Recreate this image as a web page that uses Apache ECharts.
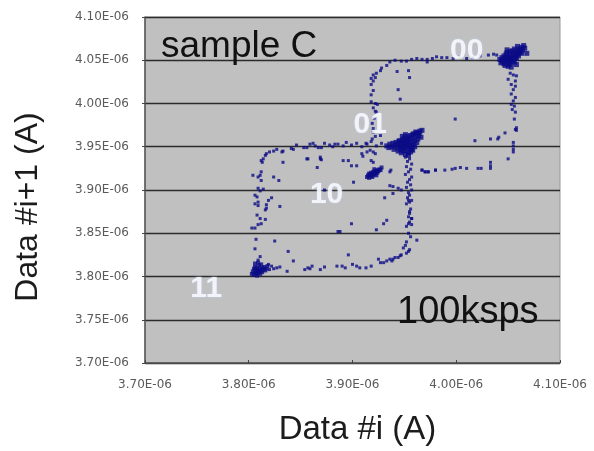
<!DOCTYPE html>
<html>
<head>
<meta charset="utf-8">
<script src="https://cdn.jsdelivr.net/npm/echarts@6/dist/echarts.min.js"></script>
<style>
  html, body { margin: 0; padding: 0; background: #ffffff; }
  #chart { width: 594px; height: 451px; }
</style>
</head>
<body>
<div id="chart"></div>
<script>
// Return map of a current-based memory cell, sampled at 100 ksps.
// Every value is in microamperes; tick labels print them as E-06 amperes.

// Axis ticks (µA)
const xTicks = [3.70, 3.80, 3.90, 4.00, 4.10];
const yTicks = [3.70, 3.75, 3.80, 3.85, 3.90, 3.95, 4.00, 4.05, 4.10];

// Steady-state cluster "00" (~4.05 µA)
const state00 = [
  [4.042,4.051],[4.043,4.047],[4.044,4.049],[4.044,4.053],[4.045,4.050],[4.046,4.046],[4.046,4.055],
  [4.047,4.052],[4.047,4.044],[4.048,4.049],[4.048,4.057],[4.049,4.054],[4.049,4.059],[4.050,4.051],
  [4.050,4.048],[4.050,4.043],[4.051,4.053],[4.051,4.045],[4.052,4.050],[4.052,4.056],[4.052,4.060],
  [4.053,4.052],[4.053,4.047],[4.053,4.042],[4.054,4.054],[4.054,4.049],[4.054,4.061],[4.055,4.057],
  [4.055,4.051],[4.056,4.053],[4.056,4.063],[4.057,4.059],[4.057,4.054],[4.058,4.056],[4.058,4.052],
  [4.058,4.045],[4.059,4.061],[4.059,4.057],[4.060,4.058],[4.060,4.055],[4.061,4.063],[4.061,4.059],
  [4.062,4.060],[4.063,4.065],[4.063,4.058],[4.064,4.062],[4.065,4.067],[4.066,4.064],[4.068,4.058],
  [4.056,4.048],[4.049,4.062],[4.059,4.066]
];

// Steady-state cluster "01" (~3.95 µA)
const state01 = [
  [3.933,3.951],[3.935,3.949],[3.936,3.953],[3.938,3.950],[3.939,3.954],[3.940,3.947],[3.941,3.952],
  [3.942,3.955],[3.943,3.949],[3.944,3.945],[3.944,3.953],[3.945,3.957],[3.946,3.950],[3.946,3.947],
  [3.947,3.954],[3.947,3.943],[3.948,3.958],[3.948,3.951],[3.949,3.948],[3.949,3.945],[3.950,3.955],
  [3.950,3.960],[3.950,3.952],[3.951,3.949],[3.951,3.941],[3.952,3.957],[3.952,3.953],[3.952,3.946],
  [3.953,3.962],[3.953,3.950],[3.954,3.955],[3.954,3.943],[3.955,3.959],[3.955,3.952],[3.956,3.948],
  [3.956,3.963],[3.957,3.956],[3.957,3.951],[3.958,3.960],[3.958,3.946],[3.959,3.953],[3.959,3.965],
  [3.960,3.957],[3.960,3.950],[3.961,3.962],[3.962,3.955],[3.962,3.966],[3.963,3.959],[3.964,3.963],
  [3.965,3.968],[3.966,3.961],[3.967,3.969],[3.945,3.956],[3.948,3.962],[3.951,3.964],[3.954,3.940],
  [3.956,3.944],[3.953,3.958],[3.949,3.956],[3.957,3.947],[3.961,3.967],[3.958,3.964],[3.964,3.966]
];

// Steady-state cluster "10" (~3.92 µA)
const state10 = [
  [3.914,3.915],[3.915,3.917],[3.916,3.914],[3.917,3.918],[3.918,3.916],[3.918,3.920],[3.919,3.918],
  [3.920,3.921],[3.920,3.917],[3.921,3.919],[3.922,3.922],[3.922,3.919],[3.923,3.921],[3.924,3.923],
  [3.924,3.920],[3.925,3.922],[3.926,3.924],[3.927,3.923],[3.928,3.926],[3.919,3.915],[3.921,3.924],
  [3.916,3.919],[3.923,3.917]
];

// Steady-state cluster "11" (~3.81 µA)
const state11 = [
  [3.803,3.803],[3.804,3.806],[3.805,3.802],[3.805,3.809],[3.806,3.805],[3.806,3.811],[3.807,3.803],
  [3.807,3.808],[3.808,3.806],[3.808,3.801],[3.808,3.810],[3.809,3.808],[3.809,3.804],[3.810,3.806],
  [3.810,3.813],[3.811,3.809],[3.811,3.803],[3.812,3.807],[3.813,3.810],[3.813,3.805],[3.814,3.808],
  [3.815,3.811],[3.816,3.807],[3.817,3.809],[3.818,3.812],[3.806,3.815],[3.809,3.816],[3.812,3.814]
];

// Transitions into and out of the "00" level
const upperLoop = [
  [3.962,4.052],[3.967,4.051],[3.972,4.051],[3.972,4.048],[3.981,4.054],[3.986,4.053],[3.991,4.053],
  [3.952,4.049],[3.947,4.049],[3.936,4.048],[3.933,4.044],[3.928,4.041],[3.927,4.038],[3.923,4.035],
  [3.920,4.033],[3.918,4.029],[3.922,4.030],[3.920,4.026],[3.918,4.022],[3.943,4.037],[3.954,4.038],
  [3.955,4.030],[3.944,4.016],[3.946,4.005],[3.941,4.050],[3.957,4.051],[3.977,4.052],[3.997,4.052],
  [4.003,4.054],[4.010,4.052],[4.016,4.053],[4.023,4.055],[4.031,4.056],[4.036,4.057],[4.039,4.056],
  [3.918,4.002],[3.922,4.000],[3.924,3.999],[3.920,3.995],[3.922,3.991],[3.923,3.990],[3.920,3.971],
  [3.922,3.962],[3.921,3.983],[3.919,3.977],[3.920,3.967],[3.919,3.959],[3.927,3.963],[3.918,4.010],
  [3.920,4.015],
  [4.052,4.035],[4.055,4.033],[4.058,4.032],[4.050,4.028],[4.057,4.026],[4.053,4.022],[4.057,4.020],
  [4.055,4.016],[4.053,4.011],[4.057,4.007],[4.055,4.003],[4.053,3.999],[4.056,3.997],[4.054,3.993],
  [4.057,3.990],[4.056,3.982],[4.058,3.972],[4.057,3.970],[4.055,3.955],[4.055,3.951],[4.055,3.947],
  [4.055,3.944],[4.050,3.936],[4.058,3.969],[4.047,3.966],
  [4.018,3.957],[4.033,3.959],[4.040,3.959],[4.041,3.961],
  [4.033,3.932],[4.033,3.928],[4.033,3.925],[4.021,3.925],[4.024,3.925],[4.010,3.925],[4.004,3.926],
  [3.999,3.925],[3.996,3.924],[3.989,3.923],[3.980,3.923],[3.973,3.921],[3.970,3.921],[3.967,3.923],
  [3.999,3.982]
];

// Transitions among the "01", "10" and "11" levels
const lowerLoop = [
  [3.841,3.948],[3.846,3.952],[3.856,3.949],[3.859,3.953],[3.864,3.951],[3.870,3.949],[3.873,3.954],
  [3.878,3.952],[3.881,3.950],[3.886,3.953],[3.891,3.951],[3.894,3.955],[3.899,3.952],[3.904,3.954],
  [3.909,3.950],[3.914,3.953],[3.918,3.956],[3.923,3.951],[3.928,3.954],[3.883,3.953],[3.867,3.949],
  [3.862,3.954],[3.853,3.949],[3.843,3.947],[3.833,3.945],[3.832,3.944],[3.827,3.947],[3.824,3.945],
  [3.820,3.944],
  [3.817,3.942],[3.816,3.940],[3.814,3.936],[3.812,3.934],[3.813,3.932],[3.812,3.921],[3.811,3.917],
  [3.809,3.915],[3.812,3.911],[3.804,3.917],[3.809,3.902],[3.814,3.901],[3.811,3.899],[3.806,3.894],
  [3.808,3.892],[3.806,3.884],[3.809,3.886],[3.809,3.882],[3.817,3.879],[3.816,3.877],[3.808,3.871],
  [3.811,3.867],[3.816,3.866],[3.812,3.861],[3.809,3.860],[3.806,3.856],[3.803,3.856],[3.807,3.843],
  [3.806,3.832],[3.811,3.823],[3.809,3.819],
  [3.833,3.932],[3.857,3.936],[3.869,3.938],[3.870,3.935],[3.866,3.926],[3.824,3.915],[3.829,3.911],
  [3.822,3.891],[3.817,3.883],[3.830,3.881],[3.819,3.888],[3.825,3.841],[3.838,3.829],[3.843,3.818],
  [3.886,3.852],[3.873,3.900],[3.899,3.861],[3.930,3.861],[3.933,3.865],[3.923,3.854],[3.888,3.852],
  [3.896,3.825],
  [3.819,3.814],[3.822,3.812],[3.824,3.809],[3.820,3.808],[3.827,3.810],[3.830,3.811],[3.837,3.806],
  [3.854,3.808],[3.857,3.810],[3.861,3.812],[3.859,3.809],[3.869,3.808],[3.873,3.811],[3.885,3.812],
  [3.890,3.812],[3.893,3.810],[3.900,3.814],[3.904,3.812],[3.907,3.810],[3.913,3.810],[3.918,3.812],
  [3.927,3.816],[3.925,3.820],[3.930,3.816],[3.933,3.818],[3.938,3.818],[3.936,3.820],[3.939,3.820],
  [3.941,3.822],[3.944,3.822],[3.946,3.824],[3.947,3.825],[3.952,3.827],[3.955,3.831],[3.954,3.829],
  [3.949,3.833],[3.951,3.836],[3.952,3.840],[3.962,3.842],
  [3.952,3.858],[3.957,3.860],[3.954,3.861],[3.955,3.863],[3.957,3.867],[3.954,3.869],[3.955,3.873],
  [3.952,3.884],[3.957,3.888],[3.955,3.886],[3.954,3.888],[3.951,3.938],[3.955,3.936],[3.953,3.933],
  [3.957,3.930],[3.952,3.927],[3.956,3.924],[3.954,3.921],[3.951,3.918],[3.957,3.915],[3.955,3.912],
  [3.953,3.909],[3.956,3.906],[3.952,3.903],[3.957,3.900],[3.954,3.897],[3.955,3.894],[3.953,3.891],
  [3.956,3.878],[3.954,3.850],[3.956,3.846],[3.955,3.875],[3.957,3.867],
  [3.896,3.934],[3.904,3.928],[3.918,3.934],[3.920,3.932],[3.909,3.942],[3.914,3.944],[3.920,3.944],
  [3.922,3.942],[3.936,3.921],[3.937,3.923],[3.901,3.909],[3.936,3.905],[3.939,3.904],[3.944,3.902],
  [3.947,3.900],[3.931,3.891],[3.939,3.896],[3.967,3.923],[3.970,3.921],[3.980,3.923],[3.973,3.921],
  [3.856,3.936],[3.869,3.936],[3.891,3.934],[3.899,3.928],[3.910,3.939],[3.913,3.954],[3.917,3.946]
];

// State labels and their anchor values (µA)
const stateNames = ['00', '01', '10', '11'];
const stateLabelAt = [[4.010, 4.061], [3.917, 3.976], [3.875, 3.894], [3.759, 3.786]];

const markColor = '#0b0b86';
const tickFmt = v => v.toFixed(2) + 'E-06';

const chart = echarts.init(document.getElementById('chart'), null, { renderer: 'canvas' });

function dots(data, size) {
  return {
    type: 'scatter',
    data: data,
    symbol: 'rect',
    symbolSize: size,
    itemStyle: { color: markColor },
    silent: true,
    z: 3
  };
}

chart.setOption({
  animation: false,
  backgroundColor: '#ffffff',
  grid: {
    left: 145, right: 34, top: 17, bottom: 85,
    show: true,
    backgroundColor: '#c0c0c0',
    borderColor: '#9a9a9a',
    borderWidth: 1
  },
  xAxis: {
    type: 'value',
    min: xTicks[0], max: xTicks[xTicks.length - 1], interval: 0.1,
    axisLine: { lineStyle: { color: '#555', width: 1.5 } },
    axisTick: { show: true, inside: true, length: 3, lineStyle: { color: '#444' } },
    splitLine: { show: false },
    axisLabel: {
      formatter: tickFmt, margin: 16,
      fontFamily: 'DejaVu Sans', fontSize: 12, color: '#5a5a5a'
    },
    name: 'Data #i (A)',
    nameLocation: 'middle',
    nameGap: 50,
    nameTextStyle: { fontFamily: 'Liberation Sans', fontSize: 33, color: '#1c1c1c', padding: [0, 0, 0, 10] }
  },
  yAxis: {
    type: 'value',
    min: yTicks[0], max: yTicks[yTicks.length - 1], interval: 0.05,
    axisLine: { show: true, lineStyle: { color: '#555', width: 1.5 } },
    axisTick: { show: true, inside: false, length: 3, lineStyle: { color: '#444' } },
    splitLine: { show: true, lineStyle: { color: '#2b2b2b', width: 1.3 } },
    axisLabel: {
      formatter: tickFmt, margin: 16,
      fontFamily: 'DejaVu Sans', fontSize: 12, color: '#5a5a5a'
    }
  },
  series: [
    dots(upperLoop, 3),
    dots(lowerLoop, 3),
    dots(state00, 5),
    dots(state01, 5),
    dots(state10, 4),
    dots(state11, 4),
    {
      type: 'scatter',
      data: stateLabelAt.map((p, i) => ({ value: p, name: stateNames[i] })),
      symbolSize: 0,
      silent: true,
      z: 5,
      label: {
        show: true,
        position: 'inside',
        formatter: p => p.name,
        fontFamily: 'Liberation Sans',
        fontWeight: 'bold',
        fontSize: 30,
        color: '#ffffff',
        textShadowColor: 'rgba(190,205,245,0.9)',
        textShadowBlur: 3
      }
    }
  ],
  graphic: [
    {
      type: 'text', left: 161, top: 28, z: 10,
      style: { text: 'sample C', font: '37px "Liberation Sans", Arial, sans-serif', fill: '#111' }
    },
    {
      type: 'text', left: 397, top: 294, z: 10,
      style: { text: '100ksps', font: '38px "Liberation Sans", Arial, sans-serif', fill: '#111' }
    },
    {
      type: 'text', z: 10,
      x: 28, y: 207, rotation: Math.PI / 2,
      style: {
        text: 'Data #i+1 (A)', font: '32px "Liberation Sans", Arial, sans-serif',
        fill: '#1c1c1c', align: 'center', verticalAlign: 'middle'
      }
    }
  ]
});
</script>
</body>
</html>
